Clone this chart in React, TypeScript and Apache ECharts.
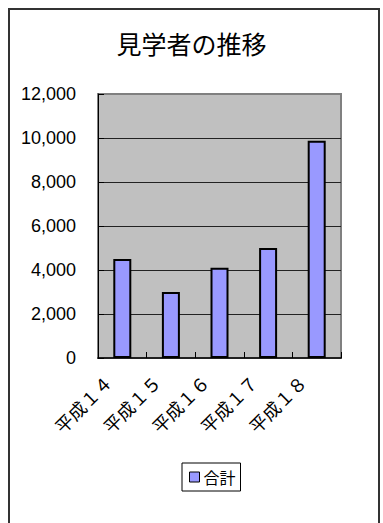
import React, { useEffect, useRef } from "react";
import * as echarts from "echarts";

const title = "見学者の推移";
const categories = ["平成１４", "平成１５", "平成１６", "平成１７", "平成１８"];
const seriesName = "合計";
const values = [4500, 3000, 4100, 5000, 9880];
const yMin = 0;
const yMax = 12000;
const yInterval = 2000;

export default function App() {
  const ref = useRef<HTMLDivElement>(null);
  useEffect(() => {
    if (!ref.current) return;
    const chart = echarts.init(ref.current, null, { renderer: "svg" });
    chart.setOption({
      animation: false,
      backgroundColor: "#ffffff",
      title: {
        text: title,
        left: "center",
        top: 30,
        padding: 0,
        textStyle: {
          fontFamily: "Noto Sans CJK JP",
          fontSize: 25,
          fontWeight: "normal",
          color: "#000",
        },
      },
      graphic: [
        {
          type: "rect",
          shape: { x: 9, y: 9, width: 370, height: 600 },
          style: { fill: "none", stroke: "#333", lineWidth: 2 },
          silent: true,
        },
      ],
      legend: {
        data: [seriesName],
        left: 182,
        bottom: 32,
        orient: "horizontal",
        padding: [6, 5, 6, 7],
        backgroundColor: "#fff",
        borderColor: "#000",
        borderWidth: 1,
        borderRadius: 0,
        itemWidth: 10,
        itemHeight: 10,
        itemGap: 4,
        icon: "rect",
        itemStyle: { borderColor: "#000", borderWidth: 1 },
        textStyle: {
          fontFamily: "Noto Sans CJK JP",
          fontSize: 16,
          color: "#000",
          padding: [0, 0, 0, -1],
        },
      },
      grid: {
        left: 98,
        top: 94,
        right: 42,
        bottom: 165,
        show: true,
        backgroundColor: "#C0C0C0",
        borderColor: "#808080",
        borderWidth: 2,
        containLabel: false,
      },
      xAxis: {
        type: "category",
        data: categories,
        boundaryGap: true,
        axisLine: { show: true, lineStyle: { color: "#000", width: 1.5 } },
        axisTick: {
          show: true,
          inside: true,
          length: 6,
          alignWithLabel: false,
          lineStyle: { color: "#000", width: 1 },
        },
        axisLabel: {
          interval: 0,
          rotate: 45,
          margin: 6,
          padding: [0, 20, 0, 0],
          fontFamily: "Noto Sans CJK JP",
          fontSize: 18,
          color: "#000",
        },
        splitLine: { show: false },
      },
      yAxis: {
        type: "value",
        min: yMin,
        max: yMax,
        interval: yInterval,
        axisLine: { show: true, lineStyle: { color: "#000", width: 1 } },
        axisTick: {
          show: true,
          inside: true,
          length: 6,
          lineStyle: { color: "#000", width: 1 },
        },
        axisLabel: {
          margin: 22,
          fontFamily: "Liberation Sans, Arial, sans-serif",
          fontSize: 18,
          color: "#000",
          formatter: (v: number) => v.toLocaleString("en-US"),
        },
        splitLine: {
          show: true,
          showMaxLine: false,
          showMinLine: false,
          lineStyle: { color: "#222", width: 1 },
        },
      },
      series: [
        {
          name: seriesName,
          type: "bar",
          data: values,
          barWidth: 18,
          itemStyle: {
            color: "#9999FF",
            borderColor: "#000",
            borderWidth: 2,
          },
        },
      ],
    });
    return () => chart.dispose();
  }, []);
  return (
    <div
      ref={ref}
      style={{ position: "absolute", left: 0, top: 0, width: 383, height: 523 }}
    />
  );
}
